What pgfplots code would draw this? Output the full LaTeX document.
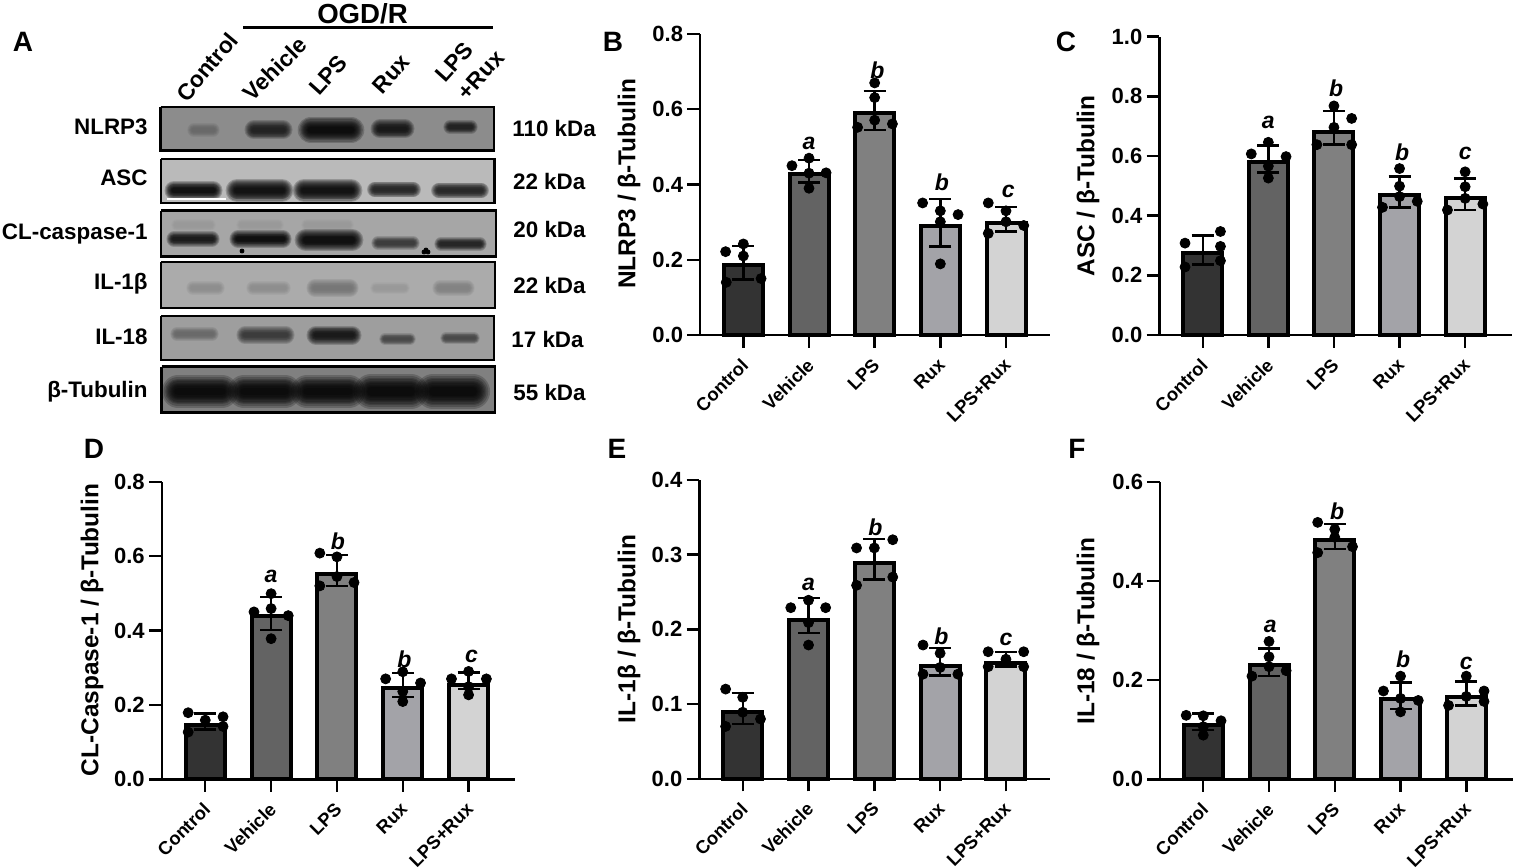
\documentclass[border=0pt]{standalone}
\usepackage{fontspec}
\setmainfont{Liberation Sans}
\usepackage{pgfplots}
\pgfplotsset{compat=1.18}

% 1 px of the reference = 0.5pt
\definecolor{cA}{HTML}{333333}
\definecolor{cB}{HTML}{636363}
\definecolor{cC}{HTML}{808080}
\definecolor{cD}{HTML}{A3A3A8}
\definecolor{cE}{HTML}{D3D3D3}

\newcommand{\fs}[1]{\fontsize{#1}{#1}\selectfont\bfseries}

\pgfplotsset{
  pan/.style={
    scale only axis, clip=false,
    axis y line=left, axis x line=bottom,
    axis line style={-, line width=1.2pt, black},
    tick align=outside, major tick length=6.3pt,
    tick style={line width=1.2pt, black},
    ymin=0,
    xtick={0,1,2,3,4},
    xticklabels={Control,Vehicle,LPS,Rux,LPS+Rux},
    x tick label style={rotate=45, anchor=north east, font=\fs{9.2}, inner sep=1pt, xshift=-3.4pt, yshift=-1.1pt},
    y tick label style={font=\fs{11}, inner sep=2pt,
      /pgf/number format/.cd, fixed, fixed zerofill, precision=1, assume math mode=true},
    ylabel style={font=\fs{12.2}, anchor=center},
  },
}

% index, colour, mean, plus, minus, points
\newcommand{\grp}[6]{%
  \addplot[ybar, bar shift=0pt, bar width=19.5pt, fill=#2, draw=black, line width=2pt,
    error bars/.cd, y dir=both, y explicit,
    error bar style={line width=1.2pt, draw=black, fill=none},
    error mark options={rotate=90, mark size=5.5pt, line width=1.2pt, black}]
    coordinates {(#1,#3) += (0,#4) -= (0,#5)};
  \addplot[only marks, mark=*, mark size=2.5pt, black] coordinates {#6};
}
\newcommand{\sig}[3]{\node[font=\fontsize{11.5}{11.5}\selectfont\bfseries\itshape] at (axis cs:#1,#2) {#3};}

% one soft stroke of a blot band
\newcommand{\layer}[6]{%
  \addplot[line cap=round, line width=#6*#4pt, color=#5, opacity=.2] coordinates {(#1,#3)(#2,#3)};
}
% x1, x2, y, thickness (pt), colour
\newcommand{\band}[5]{%
  \layer{#1}{#2}{#3}{#4}{#5}{1.9}%
  \layer{#1}{#2}{#3}{#4}{#5}{1.7}%
  \layer{#1}{#2}{#3}{#4}{#5}{1.5}%
  \layer{#1}{#2}{#3}{#4}{#5}{1.35}%
  \layer{#1}{#2}{#3}{#4}{#5}{1.2}%
  \layer{#1}{#2}{#3}{#4}{#5}{1.05}%
  \layer{#1}{#2}{#3}{#4}{#5}{.9}%
  \layer{#1}{#2}{#3}{#4}{#5}{.75}%
  \layer{#1}{#2}{#3}{#4}{#5}{.6}%
  \layer{#1}{#2}{#3}{#4}{#5}{.45}%
}
\newcommand{\blot}[5]{%
  \addplot[fill=#5, draw=black, line width=1.4pt] coordinates {(#1,#3)(#2,#3)(#2,#4)(#1,#4)(#1,#3)};
}

\begin{document}
\begin{tikzpicture}
\path[use as bounding box] (0,0) rectangle (756.5pt,433.5pt);

% panel A, in reference pixels
\begin{axis}[at={(0,0)}, anchor=south west, scale only axis, width=756.5pt, height=433.5pt,
  hide axis, clip=false, xmin=0, xmax=1513, ymin=0, ymax=867, y dir=reverse]
\blot{160.7}{494}{107}{150.7}{black!45}
\band{194}{213}{130}{3.5}{black!60}
\band{254}{283}{130}{5}{black!90}
\band{311}{351}{130}{7}{black}
\band{380}{405}{129}{5}{black!95}
\band{450}{471}{127}{3.5}{black!90}

\blot{161}{494.5}{159}{203}{black!27}
\band{174}{213}{190.5}{5}{black}
\band{237}{282}{190.5}{6}{black}
\band{304}{351}{190.5}{6}{black}
\band{375}{413}{189.5}{4.2}{black!90}
\band{439}{481}{190.5}{4.2}{black!90}
\addplot[white, line width=.8pt] coordinates {(167,199)(226,199)};

\blot{161}{496}{210.7}{256.7}{black!35}
\band{177}{210}{225}{3}{black!40}
\band{242}{278}{225}{3}{black!40}
\band{307}{348}{225}{3}{black!40}
\band{174}{212}{239}{4}{black!95}
\band{238}{283}{239}{4.5}{black}
\band{306}{352}{240}{6}{black}
\band{378}{413}{243}{3.5}{black!80}
\band{441}{480}{244}{3.5}{black!90}
\addplot[only marks, mark=*, mark size=1pt, black] coordinates {(242,251)(424,252)(428,252)(426,250)};

\blot{161}{495}{262}{308}{black!33}
\band{193}{218}{288}{3.5}{black!45}
\band{253}{284}{288}{3.5}{black!45}
\band{315}{350}{288}{4.5}{black!55}
\band{376}{404}{288}{3}{black!40}
\band{440}{467}{288}{4}{black!50}

\blot{161}{494}{316}{360}{black!38}
\band{177}{212}{334}{3.5}{black!60}
\band{245}{286}{335}{4.5}{black!80}
\band{316}{352}{335}{5}{black!95}
\band{385}{410}{339}{3}{black!75}
\band{446}{474}{338}{3}{black!75}

\blot{161.5}{495}{366.7}{412.7}{black!50}
\band{178}{222}{391.5}{8.5}{black}
\band{244}{285}{391.5}{8.5}{black}
\band{307}{349}{391.5}{8.5}{black}
\band{371}{411}{391.5}{9}{black}
\band{433}{473}{391.5}{9}{black}

\addplot[black, line width=1.5pt] coordinates {(243,28)(493,28)};
\node[font=\fs{13.8}] at (362.5,14) {OGD/R};

\node[font=\fs{14}] at (23,42) {A};
\node[font=\fs{14}] at (613,42) {B};
\node[font=\fs{14}] at (1066,42) {C};
\node[font=\fs{14}] at (94,449) {D};
\node[font=\fs{14}] at (617,449) {E};
\node[font=\fs{14}] at (1077,449) {F};

\node[font=\fs{11.4}, rotate=50] at (207,67) {Control};
\node[font=\fs{11.4}, rotate=45] at (275,69) {Vehicle};
\node[font=\fs{11.4}, rotate=48] at (328,75) {LPS};
\node[font=\fs{11.4}, rotate=48] at (391,74) {Rux};
\node[font=\fs{11.4}, rotate=48] at (454,62) {LPS};
\node[font=\fs{11.4}, rotate=48] at (481,75) {+Rux};

\node[font=\fs{11.2}, anchor=east, inner sep=0pt] at (148,127) {NLRP3};
\node[font=\fs{11.2}, anchor=east, inner sep=0pt] at (148,178) {ASC};
\node[font=\fs{11.2}, anchor=east, inner sep=0pt] at (148,234) {CL-caspase-1};
\node[font=\fs{11.2}, anchor=east, inner sep=0pt] at (148,284) {IL-1β};
\node[font=\fs{11.2}, anchor=east, inner sep=0pt] at (148,337) {IL-18};
\node[font=\fs{11.2}, anchor=east, inner sep=0pt] at (148,392) {β-Tubulin};

\node[font=\fs{11.2}, anchor=west, inner sep=0pt] at (512,128) {110 kDa};
\node[font=\fs{11.2}, anchor=west, inner sep=0pt] at (512.7,181) {22 kDa};
\node[font=\fs{11.2}, anchor=west, inner sep=0pt] at (513,229) {20 kDa};
\node[font=\fs{11.2}, anchor=west, inner sep=0pt] at (513,285) {22 kDa};
\node[font=\fs{11.2}, anchor=west, inner sep=0pt] at (511,339) {17 kDa};
\node[font=\fs{11.2}, anchor=west, inner sep=0pt] at (513,392) {55 kDa};
\end{axis}

% panel B
\begin{axis}[pan, at={(350pt,266pt)}, anchor=south west, width=175pt, height=150.5pt,
  xmin=-.66, xmax=4.67, ymax=0.8, ytick={0,0.2,0.4,0.6,0.8},
  ylabel={NLRP3 / β-Tubulin}, ylabel style={at={(axis description cs:-.203,.502)}}]
\grp{0}{cA}{.185}{.052}{.037}{(0,.242)(-.27,.2215)(0,.21)(-.26,.14)(.27,.15)}
\grp{1}{cB}{.429}{.036}{.024}{(1,.47)(.74,.45)(1.26,.431)(1,.43)(1,.39)}
\grp{2}{cC}{.589}{.059}{.044}{(2,.67)(2,.631)(2,.571)(1.74,.552)(2.27,.561)}
\grp{3}{cD}{.29}{.071}{.055}{(2.73,.351)(3,.33)(3.27,.32)(3,.301)(3,.189)}
\grp{4}{cE}{.299}{.042}{.024}{(3.73,.351)(4,.33)(4,.301)(4.27,.291)(3.73,.27)}
\sig{1}{.508}{a}\sig{2.04}{.703}{b}\sig{3.025}{.406}{b}\sig{4.035}{.381}{c}
\end{axis}

% panel C
\begin{axis}[pan, at={(579.65pt,266pt)}, anchor=south west, width=176.2pt, height=149.15pt,
  xmin=-.662, xmax=4.71, ymax=1, ytick={0,0.2,0.4,0.6,0.8,1},
  ylabel={ASC / β-Tubulin}, ylabel style={at={(axis description cs:-.202,.4995)}}]
\grp{0}{cA}{.276}{.058}{.039}{(.27,.347)(-.27,.308)(.27,.297)(.27,.249)(-.27,.228)}
\grp{1}{cB}{.58}{.055}{.035}{(1,.646)(.74,.607)(1.27,.598)(1,.566)(1,.526)}
\grp{2}{cC}{.682}{.069}{.044}{(2,.768)(2.27,.726)(2,.696)(1.74,.638)(2.27,.638)}
\grp{3}{cD}{.468}{.063}{.04}{(3,.558)(3,.499)(3,.464)(3.27,.448)(2.74,.428)}
\grp{4}{cE}{.46}{.064}{.04}{(4,.547)(4,.497)(4,.458)(4.27,.439)(3.73,.419)}
\sig{1}{.714}{a}\sig{2.035}{.827}{b}\sig{3.04}{.611}{b}\sig{4}{.609}{c}
\end{axis}

% panel D
\begin{axis}[pan, at={(80.85pt,43.85pt)}, anchor=south west, width=176.65pt, height=148.8pt,
  xmin=-.662, xmax=4.705, ymax=0.8, ytick={0,0.2,0.4,0.6,0.8},
  ylabel={CL-Caspase-1 / β-Tubulin}, ylabel style={at={(axis description cs:-.197,.502)}}]
\grp{0}{cA}{.147}{.03}{.013}{(-.26,.179)(.27,.168)(0,.159)(.27,.142)(-.26,.127)}
\grp{1}{cB}{.438}{.052}{.037}{(1,.499)(1,.459)(.74,.45)(1.26,.44)(1,.378)}
\grp{2}{cC}{.553}{.05}{.033}{(1.74,.608)(2,.598)(2,.545)(2.26,.529)(1.74,.52)}
\grp{3}{cD}{.246}{.039}{.024}{(3,.289)(2.74,.27)(3.27,.259)(3,.236)(3,.209)}
\grp{4}{cE}{.253}{.034}{.011}{(4,.29)(3.74,.27)(4.27,.27)(4,.249)(4,.227)}
\sig{1}{.545}{a}\sig{2.015}{.639}{b}\sig{3.025}{.323}{b}\sig{4.045}{.33}{c}
\end{axis}

% panel E
\begin{axis}[pan, at={(349.65pt,44.15pt)}, anchor=south west, width=175.35pt, height=149.35pt,
  xmin=-.66, xmax=4.67, ymax=0.4, ytick={0,0.1,0.2,0.3,0.4},
  ylabel={IL-1β / β-Tubulin}, ylabel style={at={(axis description cs:-.2,.501)}}]
\grp{0}{cA}{.089}{.026}{.016}{(-.26,.12)(0,.109)(0,.089)(.27,.08)(-.26,.07)}
\grp{1}{cB}{.213}{.029}{.018}{(1,.239)(.73,.229)(1.26,.229)(1,.209)(1,.179)}
\grp{2}{cC}{.289}{.032}{.022}{(2.28,.32)(1.73,.309)(2,.309)(2.28,.27)(1.73,.259)}
\grp{3}{cD}{.151}{.024}{.013}{(2.74,.179)(3,.168)(3,.149)(2.74,.14)(3.27,.14)}
\grp{4}{cE}{.155}{.015}{.005}{(3.73,.17)(4.27,.17)(4,.16)(4.27,.15)(3.73,.15)}
\sig{1}{.26}{a}\sig{2.015}{.337}{b}\sig{3.02}{.191}{b}\sig{4}{.187}{c}
\end{axis}

% panel F
\begin{axis}[pan, at={(580pt,43.85pt)}, anchor=south west, width=176.35pt, height=148.8pt,
  xmin=-.658, xmax=4.706, ymax=0.6, ytick={0,0.2,0.4,0.6},
  ylabel={IL-18 / β-Tubulin}, ylabel style={at={(axis description cs:-.204,.498)}}]
\grp{0}{cA}{.109}{.024}{.01}{(-.26,.129)(0,.128)(.27,.118)(0,.106)(0,.089)}
\grp{1}{cB}{.23}{.034}{.022}{(1,.278)(1,.247)(1,.227)(1.26,.219)(.74,.208)}
\grp{2}{cC}{.482}{.033}{.018}{(1.74,.518)(2,.504)(2,.488)(2.27,.469)(1.74,.457)}
\grp{3}{cD}{.162}{.033}{.02}{(3,.208)(2.74,.178)(3.27,.159)(3,.163)(3,.136)}
\grp{4}{cE}{.165}{.032}{.016}{(4,.208)(4.27,.178)(4,.167)(4.27,.157)(3.73,.149)}
\sig{1.02}{.308}{a}\sig{2.035}{.541}{b}\sig{3.04}{.241}{b}\sig{4}{.234}{c}
\end{axis}
\end{tikzpicture}
\end{document}
